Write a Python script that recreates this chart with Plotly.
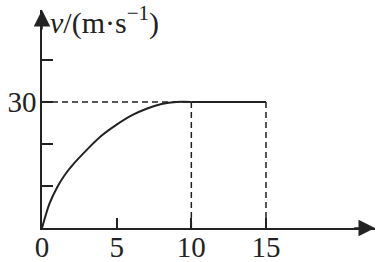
import plotly.graph_objects as go

# data
t_curve = [0, 0.5, 1, 1.5, 2, 3, 4, 5, 6, 7, 8, 9, 10]
v_curve = [0, 5.8, 9.6, 12.5, 14.8, 18.6, 22.0, 24.6, 26.8, 28.4, 29.5, 30.0, 30.0]
t_flat = [10, 15]
v_flat = [30, 30]
v_max = 30
t_marks = [10, 15]
x_tickvals = [0, 5, 10, 15]
x_ticktext = ["0", "5", "10", "15"]
y_tickvals = [10, 20, 30, 40]
y_ticktext = ["", "", "30", ""]

X_MAX = 22.3
Y_MAX = 51.9
INK = "#222222"
FONT = "Liberation Serif"
FS = 29

fig = go.Figure()

# dashed guide lines
fig.add_trace(go.Scatter(x=[0, t_marks[0]], y=[v_max, v_max], mode="lines",
                         line=dict(color=INK, width=1.5, dash="6px,4px"),
                         hoverinfo="skip", showlegend=False))
for tm in t_marks:
    fig.add_trace(go.Scatter(x=[tm, tm], y=[v_max, 0], mode="lines",
                             line=dict(color=INK, width=1.5, dash="6px,4px"),
                             hoverinfo="skip", showlegend=False))

# curve and flat part
fig.add_trace(go.Scatter(x=t_curve, y=v_curve, mode="lines",
                         line=dict(color=INK, width=2, shape="spline", smoothing=0.8),
                         showlegend=False))
fig.add_trace(go.Scatter(x=t_flat, y=v_flat, mode="lines",
                         line=dict(color=INK, width=1.8), showlegend=False))

axis_common = dict(showline=True, linecolor=INK, linewidth=1.5, ticks="inside",
                   tickcolor=INK, tickwidth=1.5, showgrid=False, zeroline=False,
                   tickfont=dict(family=FONT, size=FS, color=INK), automargin=False,
                   fixedrange=True)

fig.update_layout(
    width=379, height=262,
    margin=dict(l=42, r=4, t=10, b=34),
    paper_bgcolor="white", plot_bgcolor="white",
    xaxis=dict(range=[0, X_MAX], tickvals=x_tickvals, ticktext=x_ticktext,
               ticklen=10, ticklabelstandoff=-8, **axis_common),
    yaxis=dict(range=[0, Y_MAX], tickvals=y_tickvals, ticktext=y_ticktext,
               ticklen=11, ticklabelstandoff=-2, **axis_common),
    annotations=[
        dict(x=X_MAX, y=0, ax=X_MAX - 1.5, ay=0, xref="x", yref="y", axref="x", ayref="y",
             showarrow=True, arrowhead=2, arrowsize=2.2, arrowwidth=1.5, arrowcolor=INK, text=""),
        dict(x=0, y=Y_MAX, ax=0, ay=Y_MAX - 5, xref="x", yref="y", axref="x", ayref="y",
             showarrow=True, arrowhead=2, arrowsize=2.2, arrowwidth=1.5, arrowcolor=INK, text=""),
        dict(x=0.4, y=49.5, xref="x", yref="y", xanchor="left", yanchor="middle",
             showarrow=False, text="<i>v</i>/(m·s<sup>−1</sup>)",
             font=dict(family=FONT, size=FS + 1, color=INK)),
        dict(x=21.4, y=-4.05, xref="x", yref="y", xanchor="center", yanchor="middle",
             showarrow=False, text="<i>t</i>/s",
             font=dict(family=FONT, size=FS + 1, color=INK)),
    ],
)

fig.write_html("out.html")
